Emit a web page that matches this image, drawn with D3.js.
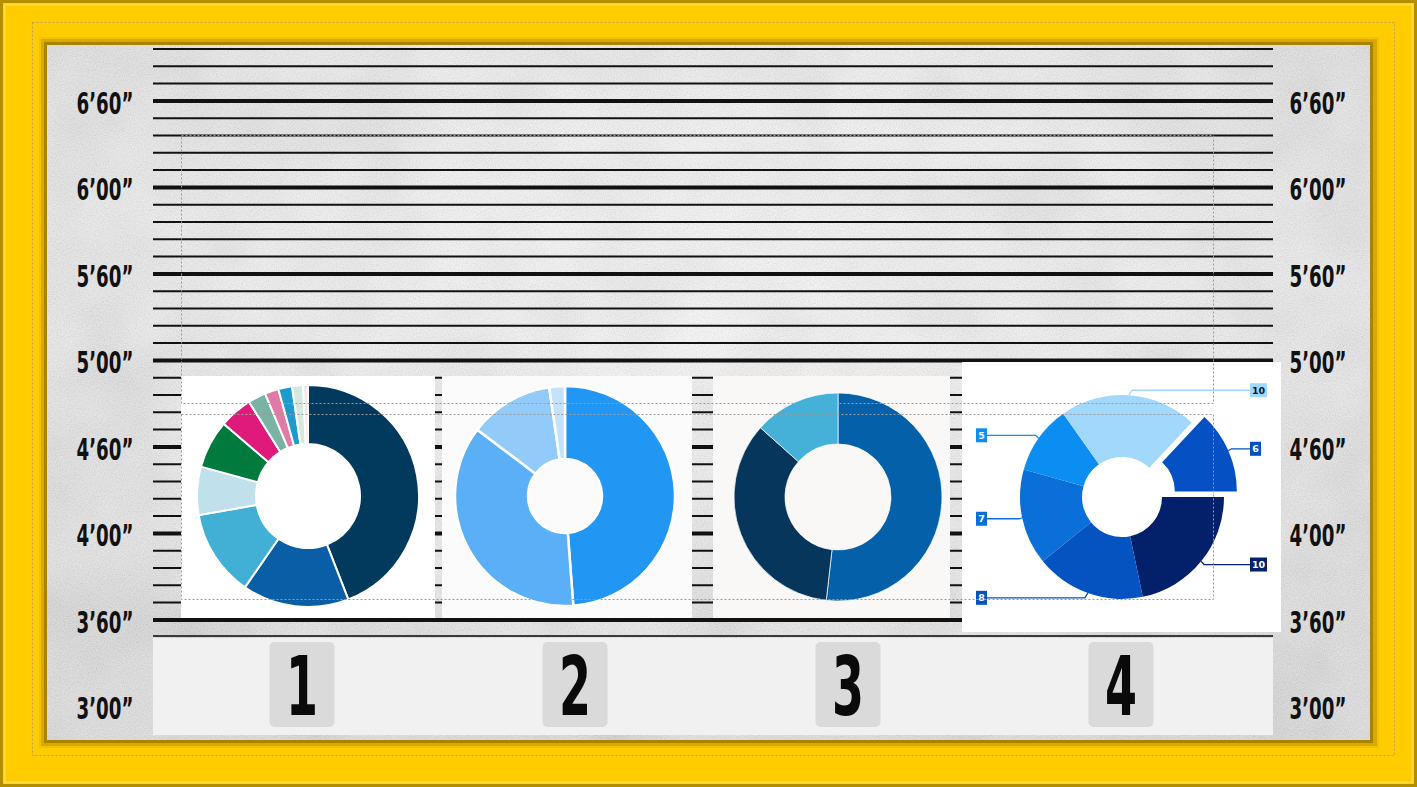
<!DOCTYPE html>
<html>
<head>
<meta charset="utf-8">
<script src="https://cdn.jsdelivr.net/npm/d3@7"></script>
<style>
  html, body { margin: 0; padding: 0; background: #ffcc00; }
  svg { display: block; }
</style>
</head>
<body>
<div id="chart"></div>
<script>
// ---- data ----
const heightTicks = ["6’60”", "6’00”", "5’60”", "5’00”", "4’60”", "4’00”", "3’60”", "3’00”"];
const mugNumbers = ["1", "2", "3", "4"];

const donut1Values = [44, 15.5, 12.6, 7, 7, 4.8, 2.6, 2, 2, 1.6, 0.7];
const donut1Colors = ["#023a5e", "#0a5ea6", "#42afd5", "#c0e1ec", "#007a3d", "#df1a7a",
                      "#7ab3a3", "#e27aa6", "#1e9bcc", "#d6e7de", "#f2e6ea"];

const donut2Values = [48.8, 36.5, 12.4, 2.3];
const donut2Colors = ["#2196f3", "#5aaff6", "#92cbf9", "#c4e2fb"];

const donut3Values = [51.8, 34.8, 13.4];
const donut3Colors = ["#0460a8", "#06365c", "#45b0d8"];

// clockwise from 3 o'clock
const donut4Values = [10, 8, 7, 5, 10, 6];
const donut4Colors = ["#03216b", "#0552c1", "#0a6fd8", "#0b8df2", "#a1d8fc", "#0550c3"];
const donut4Pulled = 5;

// ---- layout ----
const WIDTH = 1417, HEIGHT = 787;
const RULER = { left: 153, right: 1273, top: 49, step: 17.3, count: 34 };

const panels = [
  { x: 181, y: 376, w: 254, h: 242, fill: "#ffffff", cx: 308, cy: 496, rOut: 111, rIn: 52 },
  { x: 442, y: 376, w: 250, h: 242, fill: "#fbfbfb", cx: 565, cy: 496, rOut: 110, rIn: 37 },
  { x: 713, y: 376, w: 237, h: 242, fill: "#f9f8f7", cx: 838, cy: 497, rOut: 104, rIn: 53 },
  { x: 962, y: 362, w: 319, h: 270, fill: "#ffffff", cx: 1122, cy: 497, rOut: 102, rIn: 40 }
];

const svg = d3.select("#chart").append("svg")
  .attr("width", WIDTH)
  .attr("height", HEIGHT);

const defs = svg.append("defs");

const grad = defs.append("radialGradient")
  .attr("id", "wall")
  .attr("cx", "50%").attr("cy", "35%").attr("r", "70%");
grad.append("stop").attr("offset", "0%").attr("stop-color", "#f0f0f0");
grad.append("stop").attr("offset", "55%").attr("stop-color", "#e0e0e0");
grad.append("stop").attr("offset", "100%").attr("stop-color", "#c6c6c6");

const grain = defs.append("filter")
  .attr("id", "grain")
  .attr("filterUnits", "userSpaceOnUse")
  .attr("x", 47).attr("y", 45).attr("width", 1323).attr("height", 695);
grain.append("feTurbulence")
  .attr("type", "fractalNoise")
  .attr("baseFrequency", 0.85)
  .attr("numOctaves", 2)
  .attr("seed", 4);
grain.append("feColorMatrix")
  .attr("type", "matrix")
  .attr("values", "0.5 0.5 0.5 0 0.05  0.5 0.5 0.5 0 0.05  0.5 0.5 0.5 0 0.05  0 0 0 0 0.3");

const cloud = defs.append("filter")
  .attr("id", "cloud")
  .attr("filterUnits", "userSpaceOnUse")
  .attr("x", 47).attr("y", 45).attr("width", 1323).attr("height", 695);
cloud.append("feTurbulence")
  .attr("type", "fractalNoise")
  .attr("baseFrequency", 0.012)
  .attr("numOctaves", 3)
  .attr("seed", 9);
cloud.append("feColorMatrix")
  .attr("type", "matrix")
  .attr("values", "0.5 0.5 0.5 0 0.1  0.5 0.5 0.5 0 0.1  0.5 0.5 0.5 0 0.1  0 0 0 0 0.25");

// ---- yellow frame ----
svg.append("rect")
  .attr("width", WIDTH).attr("height", HEIGHT)
  .attr("fill", "#ffcc00");
svg.append("rect")
  .attr("x", 1.5).attr("y", 1.5)
  .attr("width", WIDTH - 3).attr("height", HEIGHT - 3)
  .attr("fill", "none")
  .attr("stroke", "#b38f00")
  .attr("stroke-width", 3);
svg.append("rect")
  .attr("x", 4.5).attr("y", 4.5)
  .attr("width", WIDTH - 9).attr("height", HEIGHT - 9)
  .attr("fill", "none")
  .attr("stroke", "#ffdb3d")
  .attr("stroke-width", 2);
svg.append("rect")
  .attr("x", 32.5).attr("y", 22.5)
  .attr("width", 1362).attr("height", 733)
  .attr("fill", "none")
  .attr("stroke", "#bba25a")
  .attr("stroke-width", 1)
  .attr("stroke-dasharray", "2,2");

// bevel around the wall
svg.append("rect")
  .attr("x", 40).attr("y", 38)
  .attr("width", 1338).attr("height", 709)
  .attr("fill", "#d9a900")
  .attr("stroke", "#f2c200")
  .attr("stroke-width", 2);
svg.append("rect")
  .attr("x", 44).attr("y", 42)
  .attr("width", 1329).attr("height", 701)
  .attr("fill", "#a88400");

// ---- concrete wall ----
svg.append("rect")
  .attr("x", 47).attr("y", 45)
  .attr("width", 1323).attr("height", 695)
  .attr("fill", "url(#wall)");
svg.append("rect")
  .attr("x", 47).attr("y", 45)
  .attr("width", 1323).attr("height", 695)
  .attr("filter", "url(#cloud)");
svg.append("rect")
  .attr("x", 47).attr("y", 45)
  .attr("width", 1323).attr("height", 695)
  .attr("filter", "url(#grain)");

// ---- height ruler ----
const lineY = d3.scaleLinear()
  .domain([0, 1])
  .range([RULER.top, RULER.top + RULER.step]);

const tickY = d3.scaleLinear()
  .domain([0, 1])
  .range([lineY(3), lineY(8)]);

svg.append("g")
  .attr("class", "ruler")
  .selectAll("line")
  .data(d3.range(RULER.count))
  .join("line")
  .attr("x1", RULER.left)
  .attr("x2", RULER.right)
  .attr("y1", d => lineY(d))
  .attr("y2", d => lineY(d))
  .attr("stroke", "#111")
  .attr("stroke-width", d => (d - 3) % 5 === 0 ? 4 : 2);

const labelFont = "'Liberation Sans Narrow', 'DejaVu Sans Condensed', 'DejaVu Sans', sans-serif";

[105, 1318].forEach(x => {
  svg.append("g")
    .selectAll("text")
    .data(heightTicks)
    .join("text")
    .attr("x", x)
    .attr("y", (d, i) => tickY(i) + 13)
    .attr("text-anchor", "middle")
    .attr("font-family", labelFont)
    .attr("font-weight", "bold")
    .attr("font-size", 30)
    .attr("textLength", 57)
    .attr("lengthAdjust", "spacingAndGlyphs")
    .attr("fill", "#111")
    .text(d => d);
});

// ---- number strip ----
svg.append("line")
  .attr("x1", RULER.left).attr("x2", RULER.right)
  .attr("y1", 636).attr("y2", 636)
  .attr("stroke", "#3a3a3a")
  .attr("stroke-width", 2);

svg.append("rect")
  .attr("x", RULER.left).attr("y", 638)
  .attr("width", RULER.right - RULER.left).attr("height", 97)
  .attr("fill", "#f2f1f2");

const cardX = d3.scalePoint()
  .domain(mugNumbers)
  .range([302, 1121]);

const cards = svg.append("g")
  .selectAll("g")
  .data(mugNumbers)
  .join("g")
  .attr("transform", d => `translate(${cardX(d)}, 0)`);

cards.append("rect")
  .attr("x", -32.5).attr("y", 642)
  .attr("width", 65).attr("height", 85)
  .attr("rx", 5)
  .attr("fill", "#dadada");

cards.append("text")
  .attr("y", 715)
  .attr("text-anchor", "middle")
  .attr("font-family", labelFont)
  .attr("font-weight", "bold")
  .attr("font-size", 82)
  .attr("textLength", 32)
  .attr("lengthAdjust", "spacingAndGlyphs")
  .attr("fill", "#0a0a0a")
  .text(d => d);

// ---- donut panels ----
svg.append("g")
  .selectAll("rect")
  .data(panels)
  .join("rect")
  .attr("x", d => d.x).attr("y", d => d.y)
  .attr("width", d => d.w).attr("height", d => d.h)
  .attr("fill", d => d.fill);

function drawDonut(panel, values, colors, opts) {
  const pie = d3.pie()
    .sort(null)
    .startAngle(opts.start || 0)
    .endAngle((opts.start || 0) + 2 * Math.PI);

  const arc = d3.arc()
    .innerRadius(panel.rIn)
    .outerRadius(panel.rOut);

  const g = svg.append("g")
    .attr("transform", `translate(${panel.cx}, ${panel.cy})`);

  const arcs = pie(values);

  g.selectAll("path")
    .data(arcs)
    .join("path")
    .attr("d", arc)
    .attr("fill", (d, i) => colors[i])
    .attr("stroke", opts.stroke || "none")
    .attr("stroke-width", opts.strokeWidth || 0)
    .attr("transform", (d, i) => {
      if (i !== opts.pulled) return null;
      const mid = (d.startAngle + d.endAngle) / 2;
      return `translate(${Math.sin(mid) * opts.pull}, ${-Math.cos(mid) * opts.pull})`;
    });

  return { g, arcs };
}

drawDonut(panels[0], donut1Values, donut1Colors, { stroke: "#fff", strokeWidth: 2 });
drawDonut(panels[1], donut2Values, donut2Colors, { stroke: "#fff", strokeWidth: 2.5 });
drawDonut(panels[2], donut3Values, donut3Colors, { stroke: "rgba(255,255,255,0.7)", strokeWidth: 1 });

const d4 = drawDonut(panels[3], donut4Values, donut4Colors,
  { start: Math.PI / 2, pulled: donut4Pulled, pull: 14 });

// value tags with elbow leaders
const p4 = panels[3];
const tags = d4.g.append("g").attr("class", "tags");

d4.arcs.forEach((d, i) => {
  const mid = (d.startAngle + d.endAngle) / 2;
  const pull = i === donut4Pulled ? 14 : 0;
  const r = p4.rOut + pull;
  const px = Math.sin(mid) * r;
  const py = -Math.cos(mid) * r;
  const side = Math.sin(mid) > 0 ? 1 : -1;
  const ty = py - 5 * Math.cos(mid);
  const label = String(donut4Values[i]);
  const bw = label.length > 1 ? 17 : 11;
  const edge = side > 0 ? 128 : -135;

  tags.append("path")
    .attr("d", `M${px},${py} L${px + side * 3},${ty} L${edge},${ty}`)
    .attr("fill", "none")
    .attr("stroke", donut4Colors[i])
    .attr("stroke-width", 1.3);

  const bx = side > 0 ? edge : edge - bw;
  tags.append("rect")
    .attr("x", bx).attr("y", ty - 7)
    .attr("width", bw).attr("height", 14)
    .attr("fill", donut4Colors[i]);

  tags.append("text")
    .attr("x", bx + bw / 2)
    .attr("y", ty + 3.5)
    .attr("text-anchor", "middle")
    .attr("font-family", "'DejaVu Sans', sans-serif")
    .attr("font-weight", "bold")
    .attr("font-size", 9.5)
    .attr("fill", i === 4 ? "#0b1a33" : "#ffffff")
    .text(label);
});

// ---- dotted selection boxes left on the picture ----
const dotted = [
  { x: 181, y: 135, w: 1032, h: 268 },
  { x: 181, y: 414, w: 1032, h: 185 }
];
svg.append("g")
  .selectAll("rect")
  .data(dotted)
  .join("rect")
  .attr("x", d => d.x + 0.5).attr("y", d => d.y + 0.5)
  .attr("width", d => d.w).attr("height", d => d.h)
  .attr("fill", "none")
  .attr("stroke", "#9a9a9a")
  .attr("stroke-width", 1)
  .attr("stroke-dasharray", "2,2");
</script>
</body>
</html>
